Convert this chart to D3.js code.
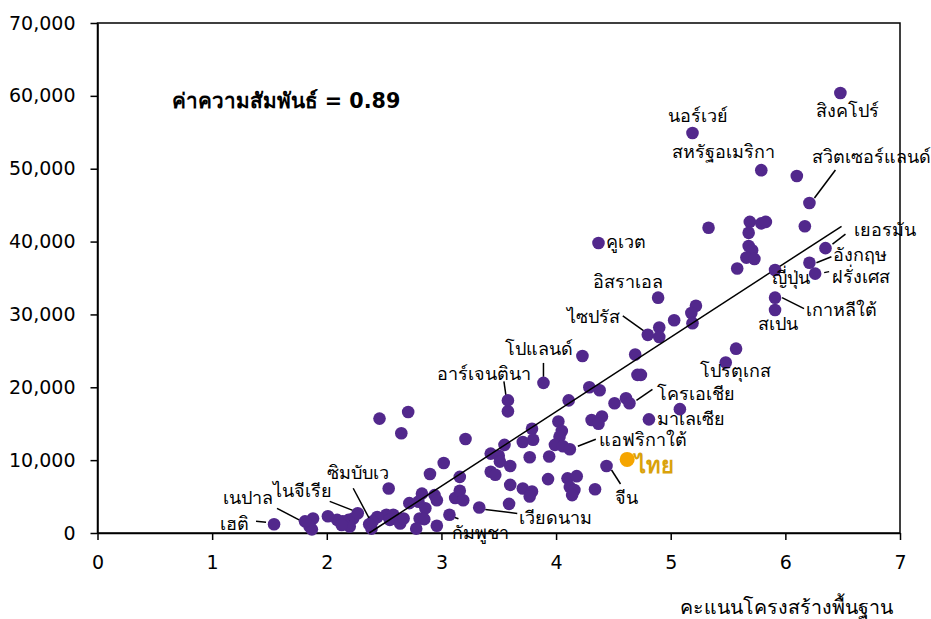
<!DOCTYPE html>
<html>
<head>
<meta charset="utf-8">
<script src="https://cdn.jsdelivr.net/npm/d3@7"></script>
<style>
  body { margin: 0; background: #fff; }
  svg text { font-family: Tahoma, "DejaVu Sans", sans-serif; }
</style>
</head>
<body>
<div id="chart"></div>
<script>
// labelled countries
const countryNames = ["สิงคโปร์", "นอร์เวย์", "สหรัฐอเมริกา", "สวิตเซอร์แลนด์", "เยอรมัน", "อังกฤษ", "ฝรั่งเศส",
    "ญี่ปุ่น", "เกาหลีใต้", "สเปน", "คูเวต", "อิสราเอล", "ไซปรัส", "โปแลนด์", "อาร์เจนตินา", "โปรตุเกส",
    "โครเอเชีย", "มาเลเซีย", "แอฟริกาใต้", "จีน", "เวียดนาม", "กัมพูชา", "ซิมบับเว", "ไนจีเรีย", "เนปาล", "เฮติ"];
const countryScore = [6.48, 5.19, 5.79, 6.21, 6.35, 6.21, 6.26, 5.91, 5.91, 5.91, 4.37, 4.89, 4.80, 3.89, 3.58, 5.48,
    4.64, 4.81, 4.12, 4.44, 3.33, 3.07, 2.37, 2.27, 1.81, 1.54];
const countryGdp = [60400, 54900, 49800, 45300, 39100, 37100, 35600, 36100, 32300, 30600, 39800, 32300, 27200, 20600, 18200, 23400,
    17800, 15600, 11500, 9200, 3500, 2500, 1200, 2700, 1600, 1200];

const thaiName = "ไทย";
const thaiScore = 4.62;
const thaiGdp = 10100;

// unlabelled countries
const otherScore = [6.10, 5.33, 5.69, 5.79, 5.83, 5.68, 6.17, 5.68, 5.71, 5.66, 5.73, 5.58,
    5.22, 5.18, 5.19, 5.03, 4.90, 4.90, 4.23, 4.69, 4.71, 4.74, 5.57,
    3.58, 4.29, 4.38, 4.11, 4.51, 4.61, 5.08,
    2.46, 2.71, 4.02, 4.31, 4.40, 4.37, 3.79, 4.05, 4.03, 3.99, 4.06,
    3.71, 3.80, 3.55, 3.21, 2.65, 3.43, 3.50, 3.51, 3.77, 3.94, 3.02,
    2.90, 3.16, 3.43, 3.47, 3.60, 3.93, 4.10, 4.18, 4.12, 4.16, 4.14, 4.34, 3.71, 3.79, 3.77, 3.60, 3.59,
    2.54, 2.83, 2.94, 2.96, 2.86, 2.80, 2.72, 3.12, 3.16, 3.19,
    2.81, 2.85, 2.96, 2.78, 2.52, 2.58, 2.55, 2.64, 2.67, 2.44, 2.40, 2.39,
    2.23, 2.19, 2.20, 2.14, 2.09, 2.01, 1.88, 1.85, 1.87, 2.13];
const otherGdp = [49000, 41900, 42700, 42500, 42700, 41200, 42100, 39400, 38800, 37800, 37600, 36300,
    31200, 30200, 28800, 29200, 28200, 26900, 24300, 24500, 21700, 21700, 25300,
    16700, 20000, 19600, 18200, 17800, 18500, 17000,
    15700, 16600, 15300, 15500, 16000, 15000, 14300, 14000, 13200, 12100, 11900,
    12500, 12800, 12100, 12900, 13700, 10900, 10600, 9800, 10400, 10500, 9600,
    8100, 7700, 8400, 8000, 9200, 7400, 7500, 7800, 6300, 5900, 5200, 6000, 6100, 5700, 5000, 6600, 4000,
    6100, 5400, 5200, 4500, 3400, 4300, 4100, 4800, 5800, 4500,
    2000, 1900, 1000, 600, 2500, 2500, 1800, 1300, 2000, 2200, 1600, 600,
    2000, 1800, 900, 1600, 1800, 2300, 2000, 900, 500, 1100];

// fitted line end points
const trendScore = [2.37, 6.49];
const trendGdp = [0, 42100];

const xTicks = [0, 1, 2, 3, 4, 5, 6, 7];
const yTicks = [0, 10000, 20000, 30000, 40000, 50000, 60000, 70000];
const corrText = "ค่าความสัมพันธ์ = 0.89";
const xTitle = "คะแนนโครงสร้างพื้นฐาน";

// label offsets from each point: text [dx, dy], leader [x1, y1, x2, y2]
const labelLayout = {
    "สิงคโปร์": { t: [-24, 24] },
    "นอร์เวย์": { t: [-24, -11] },
    "สหรัฐอเมริกา": { t: [-89, -12] },
    "สวิตเซอร์แลนด์": { t: [3, -40], l: [26, -33, 5, -5] },
    "เยอรมัน": { t: [29, -12], l: [20, -14, 7, -4] },
    "อังกฤษ": { t: [24, -2], l: [22, -6, 7, 0] },
    "ฝรั่งเศส": { t: [17, 9], l: [9, -1, 14, -2] },
    "ญี่ปุ่น": { t: [-3, 14] },
    "เกาหลีใต้": { t: [31, 18], l: [7, 0, 29, 11] },
    "สเปน": { t: [-17, 20] },
    "คูเวต": { t: [8, 5] },
    "อิสราเอล": { t: [-65, -10] },
    "ไซปรัส": { t: [-81, -12], l: [-25, -19, -4, -4] },
    "โปแลนด์": { t: [-38, -28], l: [0, -20, 0, -6] },
    "อาร์เจนตินา": { t: [-71, -20], l: [-4, -19, -2, -5] },
    "โปรตุเกส": { t: [-26, 14] },
    "โครเอเชีย": { t: [28, -3], l: [23, -14, 7, -3] },
    "มาเลเซีย": { t: [8, 6] },
    "แอฟริกาใต้": { t: [29, -3], l: [26, -10, 8, -3] },
    "จีน": { t: [8, 38], l: [5, 4, 14, 18] },
    "เวียดนาม": { t: [40, 16], l: [6, 2, 38, 6] },
    "กัมพูชา": { t: [3, 24], l: [3, 2, 9, 4] },
    "ซิมบับเว": { t: [-42, -45], l: [-16, -36, 1, -4] },
    "ไนจีเรีย": { t: [-85, -16], l: [-28, -12, -5, -3] },
    "เนปาล": { t: [-82, -17], l: [-28, -13, -5, -1] },
    "เฮติ": { t: [-54, 6], l: [-18, -3, -8, -2] }
};

const dotColor = "#52288c";
const thaiDot = "#f5a500";
const thaiText = "#d9a20b";

var margin = { top: 23, right: 31, bottom: 86, left: 97.5 },
    width = 931 - margin.left - margin.right,
    height = 619 - margin.top - margin.bottom;

var svg = d3.select("#chart").append("svg")
    .attr("width", 931)
    .attr("height", 619)
    .append("g")
    .attr("transform", "translate(" + margin.left + "," + margin.top + ")");

var x = d3.scaleLinear().domain([0, 7]).range([0, width]);
var y = d3.scaleLinear().domain([0, 70000]).range([height, 0]);

// frame
svg.append("rect")
    .attr("width", width)
    .attr("height", height)
    .attr("fill", "none")
    .attr("stroke", "#000")
    .attr("stroke-width", 1.5);

var xAxis = svg.append("g")
    .attr("transform", "translate(0," + height + ")")
    .call(d3.axisBottom(x).tickValues(xTicks).tickFormat(d3.format("d")).tickSize(7).tickSizeOuter(0).tickPadding(16));
var yAxis = svg.append("g")
    .call(d3.axisLeft(y).tickValues(yTicks).tickFormat(d3.format(",")).tickSize(7).tickSizeOuter(0).tickPadding(15));

[xAxis, yAxis].forEach(a => {
    a.select(".domain").attr("stroke", "#000").attr("stroke-width", 1.5);
    a.selectAll(".tick line").attr("stroke", "#000").attr("stroke-width", 1.5);
    a.selectAll(".tick text")
        .style("font-family", "Tahoma, 'DejaVu Sans', sans-serif")
        .style("font-size", "19px")
        .attr("fill", "#000");
});

// unlabelled points
const others = otherScore.map((s, i) => ({ s: s, g: otherGdp[i] }));
svg.append("g")
    .selectAll("circle")
    .data(others)
    .enter().append("circle")
    .attr("cx", d => x(d.s))
    .attr("cy", d => y(d.g))
    .attr("r", 6.3)
    .attr("fill", dotColor);

// fitted line
svg.append("line")
    .attr("x1", x(trendScore[0]))
    .attr("y1", y(trendGdp[0]))
    .attr("x2", x(trendScore[1]))
    .attr("y2", y(trendGdp[1]))
    .attr("stroke", "#000")
    .attr("stroke-width", 1.5);

// labelled points
const labelled = countryNames.map((n, i) => ({ name: n, s: countryScore[i], g: countryGdp[i] }));
const lab = svg.append("g");
labelled.forEach(d => {
    const px = x(d.s), py = y(d.g);
    const lay = labelLayout[d.name];
    if (lay.l) {
        lab.append("line")
            .attr("x1", px + lay.l[0]).attr("y1", py + lay.l[1])
            .attr("x2", px + lay.l[2]).attr("y2", py + lay.l[3])
            .attr("stroke", "#000")
            .attr("stroke-width", 1.5);
    }
    lab.append("circle")
        .attr("cx", px)
        .attr("cy", py)
        .attr("r", 6.3)
        .attr("fill", dotColor);
    lab.append("text")
        .attr("x", px + lay.t[0])
        .attr("y", py + lay.t[1])
        .style("font-size", "18px")
        .attr("fill", "#000")
        .text(d.name);
});

// Thailand
svg.append("circle")
    .attr("cx", x(thaiScore))
    .attr("cy", y(thaiGdp))
    .attr("r", 7.5)
    .attr("fill", thaiDot);
svg.append("text")
    .attr("x", x(thaiScore) + 8)
    .attr("y", y(thaiGdp) + 14)
    .style("font-size", "22px")
    .style("font-weight", "bold")
    .attr("fill", thaiText)
    .text(thaiName);

// correlation note
svg.append("text")
    .attr("x", 171.5 - margin.left)
    .attr("y", 108 - margin.top)
    .style("font-family", "Tahoma, 'DejaVu Sans', sans-serif")
    .style("font-size", "20.7px")
    .style("font-weight", "bold")
    .attr("fill", "#000")
    .text(corrText);

// x axis title
svg.append("text")
    .attr("x", 893 - margin.left)
    .attr("y", 614 - margin.top)
    .attr("text-anchor", "end")
    .style("font-size", "19.6px")
    .attr("fill", "#000")
    .text(xTitle);
</script>
</body>
</html>
